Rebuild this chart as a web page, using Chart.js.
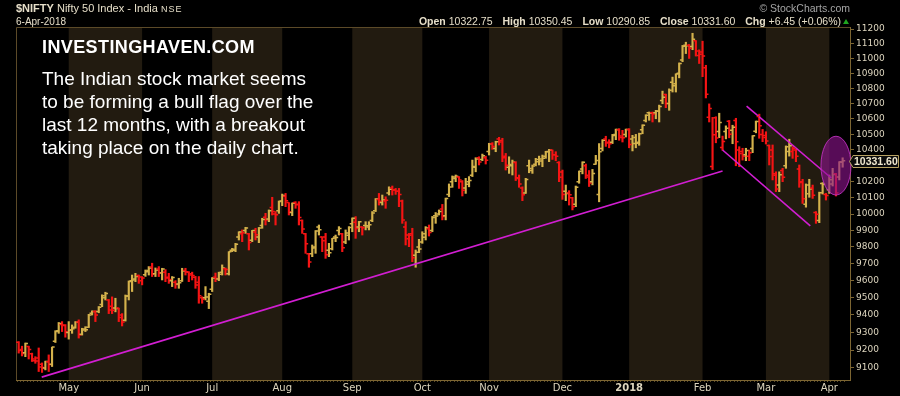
<!DOCTYPE html>
<html>
<head>
<meta charset="utf-8">
<script src="https://cdn.jsdelivr.net/npm/chart.js@4.4.1/dist/chart.umd.min.js"></script>
<style>
  html, body { margin: 0; padding: 0; background: #000; }
  #wrap { position: relative; width: 900px; height: 396px; overflow: hidden; background: #000;
          font-family: "Liberation Sans", Arial, sans-serif; color: #e6dec8; }
  #niftyChart { position: absolute; left: 0; top: 0; }
  .txt { position: absolute; white-space: nowrap; line-height: 1; }
  #title { left: 16px; top: 3px; font-size: 11px; }
  #title .nse { font-size: 9px; letter-spacing: 1px; }
  #date { left: 16px; top: 16.7px; font-size: 10px; }
  #quote { right: 59px; top: 16.3px; font-size: 10.5px; }
  #quote b { margin-left: 7px; }
  #quote b:first-child { margin-left: 0; }
  #copy { right: 50px; top: 3px; font-size: 10.5px; color: #a5a5a5; }
  #upArrow { position: absolute; left: 843px; top: 19px; width: 0; height: 0;
             border-left: 3px solid transparent; border-right: 3px solid transparent; border-bottom: 5px solid #1fa51f; }
  #brand { left: 42px; top: 38.3px; font-size: 18px; font-weight: bold; letter-spacing: 0.4px; color: #fff; }
  #note { left: 42px; top: 66.9px; font-size: 19px; line-height: 23px; color: #fff; }
</style>
</head>
<body>
<div id="wrap">
  <canvas id="niftyChart" width="900" height="396"></canvas>
  <div class="txt" id="title"><b>$NIFTY</b> Nifty 50 Index - India <span class="nse">NSE</span></div>
  <div class="txt" id="date">6-Apr-2018</div>
  <div class="txt" id="copy">© StockCharts.com</div>
  <div class="txt" id="quote"><b>Open</b> 10322.75 <b>High</b> 10350.45 <b>Low</b> 10290.85 <b>Close</b> 10331.60 <b>Chg</b> +6.45 (+0.06%)</div>
  <div id="upArrow"></div>
  <div class="txt" id="brand">INVESTINGHAVEN.COM</div>
  <div class="txt" id="note">The Indian stock market seems<br>to be forming a bull flag over the<br>last 12 months, with a breakout<br>taking place on the daily chart.</div>
</div>
<script>
// daily bars, 7-Apr-2017 .. 6-Apr-2018 (one line per month)
const opens = [
  9245, 9204, 9185, 9220, 9180, 9140, 9155, 9120, 9100, 9135, 9120, 9250, 9310, 9345, 9340,
  9300, 9315, 9330, 9360, 9290, 9320, 9330, 9410, 9420, 9420, 9460, 9500, 9487, 9450, 9440, 9440, 9400, 9370, 9510, 9600, 9610, 9630,
  9600, 9635, 9660, 9680, 9640, 9668, 9645, 9650, 9620, 9600, 9590, 9580, 9600, 9660, 9650, 9640, 9620, 9590, 9500, 9500, 9480,
  9550, 9620, 9610, 9650, 9670, 9640, 9780, 9780, 9860, 9880, 9900, 9880, 9840, 9890, 9860, 9930, 9980, 9970, 10040, 10000, 10020,
  10080, 10110, 10070, 10010, 10070, 10060, 9960, 9880, 9760, 9760, 9800, 9920, 9860, 9860, 9780, 9790, 9860, 9900, 9880, 9830, 9870,
  9940, 9950, 9920, 9920, 9930, 9920, 9960, 10020, 10090, 10070, 10080, 10130, 10160, 10150, 10140, 10080, 9920, 9850, 9880, 9750, 9800,
  9830, 9880, 9910, 9900, 9990, 10000, 10030, 9990, 10120, 10200, 10220, 10230, 10200, 10160, 10200, 10240, 10290, 10350, 10340, 10350,
  10390, 10440, 10410, 10470, 10460, 10360, 10290, 10300, 10320, 10220, 10160, 10130, 10300, 10270, 10310, 10340, 10330, 10360, 10390, 10400, 10370, 10320,
  10260, 10140, 10130, 10100, 10060, 10200, 10280, 10300, 10230, 10200, 10310, 10120, 10410, 10470, 10450, 10450, 10500, 10530, 10480, 10500,
  10531, 10470, 10480, 10450, 10530, 10590, 10640, 10640, 10640, 10650, 10720, 10760, 10700, 10840, 10830, 10900, 10990, 11090, 11090, 11080, 11120, 11020,
  11044, 10938, 10610, 10295, 10607, 10518, 10416, 10519, 10585, 10527, 10590, 10400, 10390, 10370, 10360, 10410, 10520, 10615, 10500,
  10480, 10428, 10400, 10240, 10180, 10270, 10300, 10390, 10390, 10400, 10280, 10200, 10060, 10180, 10160, 10010, 9960, 10188, 10120,
  10150, 10186, 10250, 10230, 10322.75
];
const highs = [
  9248, 9222, 9240, 9222, 9183, 9163, 9212, 9128, 9138, 9173, 9217, 9310, 9357, 9362, 9345,
  9362, 9343, 9362, 9372, 9324, 9333, 9404, 9424, 9425, 9449, 9517, 9532, 9490, 9505, 9497, 9440, 9408, 9516, 9598, 9633, 9643, 9633,
  9624, 9663, 9683, 9703, 9675, 9683, 9673, 9665, 9643, 9624, 9600, 9614, 9673, 9673, 9653, 9650, 9625, 9624, 9506, 9565, 9526,
  9618, 9645, 9650, 9693, 9675, 9772, 9792, 9822, 9892, 9903, 9919, 9882, 9900, 9913, 9918, 9974, 10004, 10025, 10103, 10015, 10080,
  10123, 10127, 10070, 10068, 10076, 10076, 9964, 9882, 9762, 9812, 9899, 9933, 9862, 9882, 9822, 9852, 9872, 9923, 9882, 9903, 9923,
  9976, 9984, 9955, 9923, 9953, 9953, 10015, 10095, 10127, 10117, 10106, 10168, 10173, 10158, 10158, 10086, 9953, 9882, 9913, 9782, 9846,
  9892, 9923, 9933, 9985, 10009, 10025, 10059, 10098, 10186, 10236, 10242, 10232, 10207, 10221, 10232, 10336, 10351, 10357, 10374, 10361,
  10443, 10447, 10456, 10481, 10475, 10378, 10357, 10336, 10326, 10242, 10168, 10221, 10336, 10305, 10347, 10361, 10368, 10392, 10404, 10400, 10389, 10326,
  10273, 10179, 10144, 10103, 10173, 10267, 10325, 10311, 10270, 10277, 10366, 10441, 10466, 10488, 10466, 10500, 10534, 10537, 10526, 10534,
  10537, 10494, 10500, 10508, 10562, 10627, 10645, 10645, 10656, 10690, 10782, 10762, 10797, 10875, 10897, 10970, 11088, 11110, 11095, 11171, 11121, 11058,
  11117, 10954, 10698, 10610, 10614, 10637, 10489, 10555, 10590, 10559, 10604, 10421, 10411, 10411, 10400, 10492, 10586, 10631, 10532,
  10517, 10432, 10432, 10262, 10262, 10284, 10426, 10469, 10421, 10404, 10305, 10215, 10186, 10215, 10179, 10015, 10135, 10194, 10127,
  10242, 10284, 10252, 10326, 10350.45
];
const lows = [
  9183, 9167, 9163, 9150, 9136, 9126, 9080, 9075, 9089, 9080, 9108, 9243, 9295, 9305, 9273,
  9262, 9295, 9324, 9268, 9285, 9305, 9328, 9400, 9362, 9413, 9448, 9487, 9408, 9408, 9418, 9362, 9337, 9365, 9487, 9536, 9594, 9584,
  9575, 9625, 9633, 9624, 9624, 9624, 9604, 9594, 9584, 9565, 9555, 9555, 9595, 9633, 9594, 9604, 9555, 9468, 9468, 9487, 9437,
  9536, 9594, 9600, 9633, 9633, 9633, 9772, 9772, 9842, 9832, 9882, 9782, 9832, 9842, 9826, 9913, 9933, 9953, 9994, 9933, 10004,
  10051, 10045, 9994, 9990, 10035, 9933, 9882, 9762, 9679, 9742, 9762, 9872, 9772, 9732, 9742, 9782, 9832, 9872, 9772, 9820, 9842,
  9892, 9852, 9892, 9872, 9903, 9903, 9953, 10015, 10055, 10055, 10035, 10117, 10117, 10121, 10045, 9943, 9812, 9802, 9712, 9679, 9766,
  9822, 9842, 9866, 9892, 9943, 9994, 9964, 9964, 10107, 10165, 10200, 10158, 10111, 10127, 10168, 10232, 10262, 10305, 10332, 10311,
  10368, 10404, 10389, 10432, 10326, 10273, 10252, 10242, 10207, 10165, 10082, 10127, 10256, 10252, 10299, 10305, 10294, 10347, 10326, 10340, 10332, 10200,
  10090, 10082, 10055, 10025, 10045, 10190, 10249, 10220, 10170, 10180, 10309, 10075, 10394, 10423, 10414, 10441, 10466, 10462, 10451, 10483,
  10414, 10394, 10414, 10430, 10504, 10580, 10591, 10580, 10601, 10580, 10699, 10673, 10656, 10776, 10776, 10870, 10978, 11033, 11000, 11059, 11016, 10966,
  10878, 10737, 10580, 10276, 10446, 10479, 10398, 10471, 10478, 10440, 10300, 10294, 10336, 10332, 10332, 10383, 10510, 10475, 10453,
  10438, 10305, 10211, 10138, 10138, 10200, 10284, 10361, 10347, 10326, 10165, 10065, 10042, 10103, 10096, 9943, 9947, 10123, 10086,
  10127, 10173, 10111, 10211, 10290.85
];
const closes = [
  9198, 9181, 9237, 9203, 9150, 9139, 9105, 9103, 9136, 9119, 9217, 9306, 9351, 9342, 9304,
  9313, 9321, 9359, 9285, 9314, 9316, 9400, 9420, 9400, 9445, 9512, 9525, 9429, 9427, 9438, 9386, 9360, 9510, 9595, 9604, 9625, 9621,
  9616, 9653, 9675, 9637, 9663, 9647, 9668, 9616, 9606, 9618, 9578, 9588, 9657, 9653, 9633, 9630, 9574, 9511, 9491, 9504, 9520,
  9615, 9613, 9637, 9674, 9665, 9771, 9786, 9816, 9891, 9886, 9915, 9827, 9899, 9873, 9915, 9966, 9964, 10020, 10015, 9995, 10077,
  10114, 10081, 10013, 10066, 10057, 9978, 9908, 9820, 9710, 9794, 9897, 9904, 9837, 9754, 9766, 9852, 9857, 9912, 9796, 9884, 9917,
  9974, 9912, 9952, 9916, 9929, 9934, 10006, 10093, 10079, 10086, 10085, 10153, 10147, 10141, 10121, 9964, 9872, 9871, 9735, 9768, 9788,
  9859, 9914, 9888, 9979, 9988, 10016, 9984, 10096, 10167, 10230, 10234, 10210, 10146, 10184, 10207, 10295, 10343, 10323, 10363, 10335,
  10440, 10423, 10452, 10451, 10350, 10303, 10308, 10322, 10224, 10186, 10118, 10214, 10283, 10298, 10326, 10342, 10348, 10389, 10399, 10370, 10361, 10227,
  10121, 10127, 10118, 10044, 10166, 10265, 10322, 10240, 10192, 10252, 10333, 10389, 10463, 10444, 10440, 10493, 10531, 10490, 10478, 10531,
  10435, 10442, 10443, 10504, 10559, 10623, 10637, 10632, 10651, 10681, 10741, 10700, 10788, 10817, 10895, 10966, 11083, 11086, 11069, 11130, 11050, 11028,
  11017, 10761, 10667, 10498, 10477, 10577, 10455, 10540, 10501, 10546, 10452, 10378, 10360, 10397, 10382, 10491, 10583, 10555, 10493,
  10458, 10358, 10249, 10154, 10243, 10227, 10421, 10427, 10411, 10360, 10195, 10094, 10125, 10155, 10115, 9998, 10131, 10184, 10114,
  10212, 10245, 10129, 10325, 10331.6
];
const priorClose = 9261; // 6-Apr-2017, colours the first bar

const firstDay = '2017-04-07';
const lastDay = '2018-04-06';
const holidays = ['2017-04-14', '2017-05-01', '2017-06-26', '2017-08-15', '2017-08-25', '2017-10-02', '2017-10-20',
                  '2017-12-25', '2018-01-26', '2018-02-13', '2018-03-02', '2018-03-29', '2018-03-30'];
const monthLabels = ['May', 'Jun', 'Jul', 'Aug', 'Sep', 'Oct', 'Nov', 'Dec', '2018', 'Feb', 'Mar', 'Apr'];
const yTicks = [9100, 9200, 9300, 9400, 9500, 9600, 9700, 9800, 9900, 10000, 10100,
                10200, 10300, 10400, 10500, 10600, 10700, 10800, 10900, 11000, 11100, 11200];

// hand drawn lines, in (bar number, price)
const supportLine = [{ x: 6.9, y: 9049 }, { x: 211, y: 10267 }];
const channelTop = [{ x: 218.2, y: 10684 }, { x: 243.6, y: 10223 }];
const channelBottom = [{ x: 211, y: 10400 }, { x: 237.3, y: 9927 }];
const flagOval = { x: 245, xRadius: 4.5, top: 10488, bottom: 10117 };

const upColor = '#d4b24c';
const downColor = '#f51414';
const bandColor = '#221b10';
const frameColor = '#5c4a28';
const axisColor = '#7d6632';
const labelColor = '#ddd5be';
const lineColor = '#d21ed2';

function tradingDays() {
  const days = [];
  const d = new Date(firstDay + 'T00:00:00Z');
  const end = new Date(lastDay + 'T00:00:00Z');
  while (d <= end) {
    const wd = d.getUTCDay();
    const iso = d.toISOString().slice(0, 10);
    if (wd !== 0 && wd !== 6 && !holidays.includes(iso)) days.push(iso);
    d.setUTCDate(d.getUTCDate() + 1);
  }
  return days;
}

const dates = tradingDays();
const monthStarts = [];
dates.forEach((d, i) => {
  if (i > 0 && d.slice(5, 7) !== dates[i - 1].slice(5, 7)) monthStarts.push(i);
});

const barColors = closes.map((c, i) => c >= (i === 0 ? priorClose : closes[i - 1]) ? upColor : downColor);

function monthLabel(v) {
  const k = monthStarts.indexOf(v);
  return k >= 0 ? monthLabels[k] : '';
}

// shaded every other month + frame
const monthBands = {
  id: 'monthBands',
  beforeDatasetsDraw(chart) {
    const { ctx, chartArea: a, scales: { x } } = chart;
    ctx.save();
    ctx.fillStyle = bandColor;
    for (let k = 0; k < monthStarts.length - 1; k += 2) {
      const x0 = x.getPixelForValue(monthStarts[k]);
      const x1 = x.getPixelForValue(monthStarts[k + 1]);
      ctx.fillRect(x0, a.top, x1 - x0, a.bottom - a.top);
    }
    ctx.strokeStyle = frameColor;
    ctx.lineWidth = 1;
    ctx.beginPath();
    ctx.moveTo(a.left + 0.5, a.bottom);
    ctx.lineTo(a.left + 0.5, a.top + 0.5);
    ctx.lineTo(a.right, a.top + 0.5);
    ctx.stroke();
    ctx.restore();
  }
};

// open tick left, close tick right
const ohlcTicks = {
  id: 'ohlcTicks',
  afterDatasetsDraw(chart) {
    const { ctx, scales: { x, y } } = chart;
    ctx.save();
    ctx.lineWidth = 1.5;
    closes.forEach((c, i) => {
      const px = x.getPixelForValue(i);
      const yo = y.getPixelForValue(opens[i]);
      const yc = y.getPixelForValue(c);
      ctx.strokeStyle = barColors[i];
      ctx.beginPath();
      ctx.moveTo(px - 2.6, yo);
      ctx.lineTo(px, yo);
      ctx.moveTo(px, yc);
      ctx.lineTo(px + 2.6, yc);
      ctx.stroke();
    });
    ctx.restore();
  }
};

const flagMarker = {
  id: 'flagMarker',
  afterDatasetsDraw(chart) {
    const { ctx, scales: { x, y } } = chart;
    const cx = x.getPixelForValue(flagOval.x);
    const rx = x.getPixelForValue(flagOval.x + flagOval.xRadius) - cx;
    const yt = y.getPixelForValue(flagOval.top);
    const yb = y.getPixelForValue(flagOval.bottom);
    ctx.save();
    ctx.beginPath();
    ctx.ellipse(cx, (yt + yb) / 2, rx, (yb - yt) / 2, 0, 0, Math.PI * 2);
    ctx.fillStyle = 'rgba(140, 20, 140, 0.62)';
    ctx.fill();
    ctx.strokeStyle = 'rgba(190, 50, 190, 0.9)';
    ctx.lineWidth = 1;
    ctx.stroke();
    ctx.restore();
  }
};

const lastPrice = {
  id: 'lastPrice',
  afterDraw(chart) {
    const { ctx, chartArea: a, scales: { y } } = chart;
    const last = closes[closes.length - 1];
    const py = Math.round(y.getPixelForValue(last)) + 0.5;
    const left = a.right + 3;
    ctx.save();
    ctx.fillStyle = '#0c0c0c';
    ctx.strokeStyle = '#b8a262';
    ctx.lineWidth = 1;
    ctx.beginPath();
    ctx.moveTo(a.right - 0.5, py);
    ctx.lineTo(left, py - 6);
    ctx.lineTo(898.5, py - 6);
    ctx.lineTo(898.5, py + 6);
    ctx.lineTo(left, py + 6);
    ctx.closePath();
    ctx.fill();
    ctx.stroke();
    ctx.fillStyle = '#efe7cf';
    ctx.font = 'bold 10.5px "Liberation Sans", Arial, sans-serif';
    ctx.textBaseline = 'middle';
    ctx.textAlign = 'left';
    ctx.fillText(last.toFixed(2), left + 1, py + 0.5);
    ctx.restore();
  }
};

const trendStyle = { type: 'line', borderColor: lineColor, borderWidth: 1.6, pointRadius: 0, fill: false, tension: 0, order: 0 };

new Chart(document.getElementById('niftyChart').getContext('2d'), {
  type: 'bar',
  data: {
    datasets: [
      {
        type: 'bar',
        data: highs.map((h, i) => ({ x: i, y: [lows[i], h] })),
        backgroundColor: barColors,
        borderWidth: 0,
        barThickness: 1.5,
        grouped: false,
        order: 1
      },
      { ...trendStyle, data: supportLine },
      { ...trendStyle, data: channelTop },
      { ...trendStyle, data: channelBottom }
    ]
  },
  options: {
    responsive: false,
    animation: false,
    events: [],
    layout: { padding: { left: 16, top: 27, right: 0, bottom: 0 } },
    plugins: { legend: { display: false }, tooltip: { enabled: false } },
    scales: {
      x: {
        type: 'linear',
        min: -0.3,
        max: 248.7,
        afterBuildTicks: s => { s.ticks = dates.map((d, i) => ({ value: i })); },
        afterFit: s => { s.height = 16; },
        grid: {
          drawOnChartArea: false,
          tickLength: 2,
          color: c => (c.tick && monthStarts.includes(c.tick.value)) ? axisColor : '#5a4a26'
        },
        border: { color: axisColor },
        ticks: {
          autoSkip: false,
          maxRotation: 0,
          minRotation: 0,
          padding: 0,
          color: labelColor,
          font: c => ({
            family: '"DejaVu Sans", sans-serif',
            size: 10,
            weight: (c.tick && c.tick.label === '2018') ? 'bold' : 'normal'
          }),
          callback: v => monthLabel(v)
        }
      },
      y: {
        type: 'logarithmic',
        position: 'right',
        min: 9033,
        max: 11214,
        afterBuildTicks: s => { s.ticks = yTicks.map(v => ({ value: v })); },
        afterFit: s => { s.width = 50; },
        grid: { drawOnChartArea: false, tickLength: 4, color: axisColor },
        border: { color: axisColor },
        ticks: {
          autoSkip: false,
          padding: 2,
          color: labelColor,
          font: { family: '"DejaVu Sans", sans-serif', size: 9 },
          callback: v => String(v)
        }
      }
    }
  },
  plugins: [monthBands, ohlcTicks, flagMarker, lastPrice]
});
</script>
</body>
</html>
